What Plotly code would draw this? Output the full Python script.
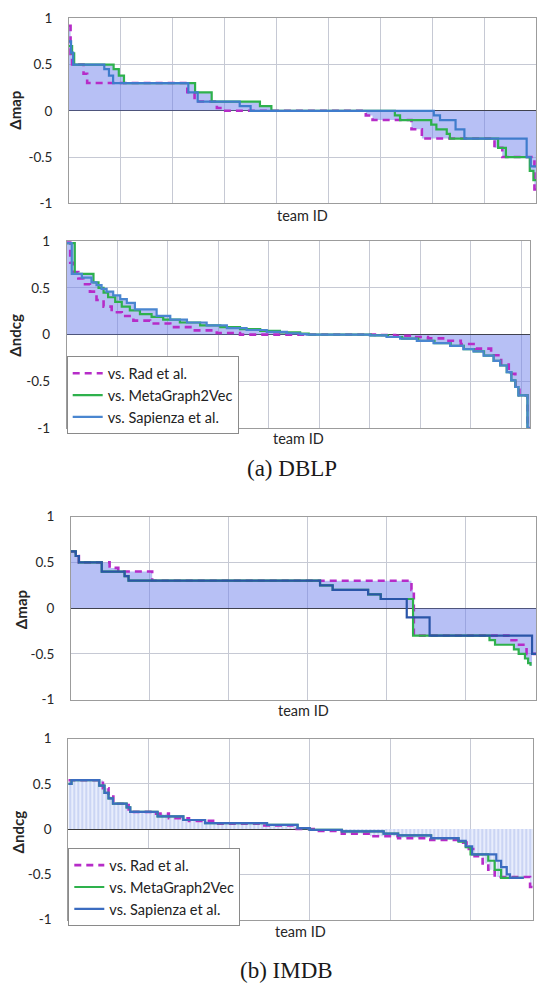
import plotly.graph_objects as go

# ---------------------------------------------------------------------------
# Per-team differences (sorted by team), stored as step breakpoints:
# *_x = team position where a new level starts, *_y = delta at that level.
# ---------------------------------------------------------------------------

# (a) DBLP - delta map
dblp_map_rad_x = [0, 0.03, 0.06, 0.28, 0.35, 2.28, 2.42, 2.85, 2.95, 5.72, 5.85, 6.6, 6.8, 8.2, 8.35, 8.97, 9.0]
dblp_map_rad_y = [0.92, 0.55, 0.5, 0.4, 0.3, 0.2, 0.1, 0.03, 0, -0.05, -0.1, -0.2, -0.3, -0.4, -0.5, -0.85, -0.85]
dblp_map_m2v_x = [0, 0.06, 0.1, 0.86, 0.96, 1.06, 2.43, 2.75, 3.68, 3.9, 6.28, 6.38, 6.98, 7.08, 7.28, 7.34, 8.27, 8.42, 8.88, 8.95, 9.0]
dblp_map_m2v_y = [0.7, 0.62, 0.5, 0.45, 0.38, 0.3, 0.2, 0.1, 0.05, 0, -0.05, -0.1, -0.15, -0.2, -0.25, -0.3, -0.4, -0.5, -0.65, -0.75, -0.75]
dblp_map_sap_x = [0, 0.04, 0.08, 0.68, 0.77, 0.85, 2.3, 2.48, 3.29, 3.5, 7.03, 7.15, 7.45, 7.62, 8.82, 8.9, 9.0]
dblp_map_sap_y = [0.75, 0.63, 0.5, 0.45, 0.38, 0.3, 0.2, 0.1, 0.05, 0, -0.05, -0.1, -0.2, -0.3, -0.5, -0.6, -0.6]

# (a) DBLP - delta ndcg
dblp_ndcg_rad_x = [0, 0.07, 0.13, 0.23, 0.33, 0.46, 0.59, 0.73, 0.89, 1.09, 1.32, 1.65, 2.05, 2.51, 2.97, 3.43,
                   6.1, 6.5, 6.85, 7.15, 7.45, 7.8, 8.1, 8.4, 8.6, 8.75, 8.88, 8.96, 9.12, 9.17]
dblp_ndcg_rad_y = [1.0, 0.77, 0.67, 0.6, 0.54, 0.46, 0.37, 0.3, 0.24, 0.2, 0.15, 0.12, 0.08, 0.046, 0.018, 0,
                   -0.004, -0.012, -0.025, -0.04, -0.065, -0.1, -0.15, -0.22, -0.32, -0.42, -0.55, -0.65, -1.0, -1.0]
dblp_ndcg_m2v_x = [0, 0.16, 0.53, 0.63, 0.73, 0.82, 0.96, 1.09, 1.25, 1.45, 1.68, 1.91, 2.24, 2.64, 3.04, 3.43, 3.83,
                   4.22, 4.62, 4.79, 6.02, 6.36, 6.64, 6.96, 7.28, 7.6, 7.86, 8.06, 8.26, 8.45, 8.58, 8.71, 8.8, 8.88,
                   8.94, 9.12, 9.17]
dblp_ndcg_m2v_y = [0.98, 0.65, 0.56, 0.5, 0.45, 0.4, 0.35, 0.3, 0.26, 0.22, 0.19, 0.16, 0.13, 0.1, 0.08, 0.06, 0.04,
                   0.025, 0.01, 0, -0.008, -0.025, -0.042, -0.067, -0.09, -0.12, -0.155, -0.18, -0.225, -0.28,
                   -0.33, -0.4, -0.49, -0.56, -0.65, -1.0, -1.0]
dblp_ndcg_sap_x = [0, 0.1, 0.3, 0.49, 0.59, 0.69, 0.79, 0.92, 1.06, 1.19, 1.35, 1.78, 2.05, 2.38, 2.77, 3.17, 3.56,
                   3.96, 4.36, 4.62, 4.75, 6.0, 6.33, 6.6, 6.93, 7.26, 7.59, 7.85, 8.05, 8.25, 8.45, 8.58, 8.71,
                   8.8, 8.88, 8.94, 9.12, 9.17]
dblp_ndcg_sap_y = [0.98, 0.65, 0.61, 0.56, 0.53, 0.49, 0.46, 0.42, 0.38, 0.34, 0.27, 0.2, 0.16, 0.13, 0.1, 0.07, 0.05,
                   0.03, 0.015, 0.005, 0, -0.008, -0.025, -0.042, -0.067, -0.09, -0.12, -0.155, -0.18, -0.225,
                   -0.28, -0.33, -0.4, -0.49, -0.56, -0.65, -1.0, -1.0]

# (b) IMDB - delta map
imdb_map_rad_x = [0, 0.06, 0.1, 0.49, 0.6, 1.03, 4.32, 4.35, 5.55, 5.65, 5.78, 5.9]
imdb_map_rad_y = [0.62, 0.57, 0.5, 0.44, 0.4, 0.3, 0.2, -0.3, -0.35, -0.4, -0.5, -0.5]
imdb_map_m2v_x = [0, 0.06, 0.1, 0.39, 0.68, 0.73, 3.16, 3.32, 3.77, 3.93, 4.34, 5.31, 5.38, 5.62, 5.68, 5.76, 5.8, 5.83]
imdb_map_m2v_y = [0.62, 0.57, 0.5, 0.4, 0.35, 0.3, 0.25, 0.2, 0.15, 0.1, -0.3, -0.35, -0.4, -0.45, -0.5, -0.55, -0.6, -0.63]
imdb_map_sap_x = [0, 0.06, 0.1, 0.39, 0.68, 0.73, 3.16, 3.32, 3.77, 3.93, 4.26, 4.55, 5.85, 5.9]
imdb_map_sap_y = [0.62, 0.57, 0.5, 0.4, 0.35, 0.3, 0.25, 0.2, 0.15, 0.1, -0.1, -0.3, -0.5, -0.5]

# (b) IMDB - delta ndcg
imdb_ndcg_rad_x = [0, 0.43, 0.5, 0.56, 0.75, 1.05, 1.25, 1.5, 1.8, 2.4, 2.8, 3.05, 3.4, 3.75, 4.1, 4.5, 4.85,
                   4.95, 5.05, 5.15, 5.22, 5.3, 5.74, 5.78]
imdb_ndcg_rad_y = [0.54, 0.45, 0.36, 0.28, 0.19, 0.17, 0.12, 0.09, 0.06, 0.04, 0.0, -0.02, -0.05, -0.08, -0.1,
                   -0.12, -0.15, -0.22, -0.3, -0.38, -0.45, -0.53, -0.64, -0.64]
imdb_ndcg_m2v_x = [0, 0.04, 0.385, 0.45, 0.5, 0.555, 0.725, 0.77, 1.11, 1.43, 1.7, 2.47, 2.85, 3.0, 3.4, 3.92,
                   4.1, 4.51, 4.85, 4.94, 5.0, 5.22, 5.3, 5.38, 5.66]
imdb_ndcg_m2v_y = [0.5, 0.54, 0.48, 0.4, 0.34, 0.28, 0.24, 0.19, 0.14, 0.1, 0.065, 0.047, 0.01, -0.01, -0.025,
                   -0.05, -0.07, -0.1, -0.14, -0.2, -0.28, -0.35, -0.45, -0.54, -0.54]
imdb_ndcg_sap_x = [0, 0.04, 0.385, 0.45, 0.5, 0.555, 0.725, 0.77, 1.11, 1.43, 1.7, 2.47, 2.85, 3.0, 3.4, 3.92,
                   4.1, 4.51, 4.85, 4.94, 5.02, 5.32, 5.38, 5.45, 5.49, 5.66]
imdb_ndcg_sap_y = [0.5, 0.54, 0.48, 0.4, 0.34, 0.28, 0.24, 0.19, 0.14, 0.1, 0.065, 0.047, 0.01, -0.01, -0.025,
                   -0.05, -0.07, -0.1, -0.13, -0.19, -0.28, -0.35, -0.42, -0.5, -0.54, -0.54]

series_names = ["vs. Rad et al.", "vs. MetaGraph2Vec", "vs. Sapienza et al."]
y_tick_vals = [-1, -0.5, 0, 0.5, 1]
y_tick_text = ["-1", "-0.5", "0", "0.5", "1"]

# ---------------------------------------------------------------------------
W, H = 537, 993
SANS = "Lato, 'Open Sans', sans-serif"
SERIF = "'Liberation Serif', 'DejaVu Serif', serif"
MAGENTA = "#b62cc8"
GREEN = "#2eb14c"


def step_value(xs, ys, x):
    """Value of an hv step series at position x (0 outside its extent)."""
    if x > xs[-1] + 1e-12:
        return 0.0
    val = ys[0]
    for xi, yi in zip(xs, ys):
        if xi <= x + 1e-12:
            val = yi
        else:
            break
    return val


def envelope(series):
    """Outermost (largest |delta|) value of several step series."""
    xs = sorted({x for sx, _ in series for x in sx})
    ys = [max((step_value(sx, sy, x) for sx, sy in series), key=abs) for x in xs]
    return xs, ys


def px_x(v):
    return v / W


def px_y(v):
    return 1 - v / H


panels = [
    dict(rad=(dblp_map_rad_x, dblp_map_rad_y), m2v=(dblp_map_m2v_x, dblp_map_m2v_y),
         sap=(dblp_map_sap_x, dblp_map_sap_y), xr=9.0, left=69, right=536, top=10.5, bottom=198.5,
         blue="#3f7ccc", ylab="Δmap", ylab_pos=(15.5, 104), title_y=211, legend=None, hatch=False),
    dict(rad=(dblp_ndcg_rad_x, dblp_ndcg_rad_y), m2v=(dblp_ndcg_m2v_x, dblp_ndcg_m2v_y),
         sap=(dblp_ndcg_sap_x, dblp_ndcg_sap_y), xr=9.17, left=66.7, right=530, top=237, bottom=427,
         blue="#4a86d0", ylab="Δndcg", ylab_pos=(15, 332), title_y=438, legend="legend", hatch=False),
    dict(rad=(imdb_map_rad_x, imdb_map_rad_y), m2v=(imdb_map_m2v_x, imdb_map_m2v_y),
         sap=(imdb_map_sap_x, imdb_map_sap_y), xr=5.9, left=71, right=536, top=517, bottom=703,
         blue="#2a55a8", ylab="Δmap", ylab_pos=(21, 612), title_y=714, legend=None, hatch=False),
    dict(rad=(imdb_ndcg_rad_x, imdb_ndcg_rad_y), m2v=(imdb_ndcg_m2v_x, imdb_ndcg_m2v_y),
         sap=(imdb_ndcg_sap_x, imdb_ndcg_sap_y), xr=5.78, left=68.3, right=533.3, top=742.5, bottom=926.5,
         blue="#3b6cc0", ylab="Δndcg", ylab_pos=(18, 838), title_y=939, legend="legend2", hatch=True),
]

fig = go.Figure()
annotations = []

for i, p in enumerate(panels, start=1):
    xa = "x" if i == 1 else f"x{i}"
    ya = "y" if i == 1 else f"y{i}"

    # shaded area out to the outermost curve
    ex, ey = envelope([p["rad"], p["m2v"], p["sap"]])
    fill_kw = dict(fill="tozeroy", mode="lines", line=dict(width=0, shape="hv"),
                   hoverinfo="skip", showlegend=False)
    if p["hatch"]:
        fill_kw["fillcolor"] = "rgba(226,232,251,1)"
        fill_kw["fillpattern"] = dict(shape="|", fgcolor="#93a8e6", bgcolor="rgba(232,237,252,1)",
                                      size=4, solidity=0.35)
    else:
        fill_kw["fillcolor"] = "rgba(112,130,236,0.5)"
    fig.add_trace(go.Scatter(x=ex, y=ey, xaxis=xa, yaxis=ya, **fill_kw))

    styles = [
        (p["rad"], dict(color=MAGENTA, width=2.6, dash="7px,5px")),
        (p["m2v"], dict(color=GREEN, width=2.2)),
        (p["sap"], dict(color=p["blue"], width=2.2)),
    ]
    for k, ((sx, sy), ln) in enumerate(styles):
        ln = dict(ln, shape="hv")
        kw = dict(x=sx, y=sy, xaxis=xa, yaxis=ya, mode="lines", line=ln, name=series_names[k],
                  showlegend=p["legend"] is not None, legendgroup=f"g{i}{k}")
        if p["legend"] is not None:
            kw["legend"] = p["legend"]
        fig.add_trace(go.Scatter(**kw))

    axis_common = dict(showline=True, mirror=True, linecolor="#9c9c9c", linewidth=1,
                       showgrid=True, gridcolor="#c6c9d4", gridwidth=1)
    fig.update_layout({
        ("xaxis" if i == 1 else f"xaxis{i}"): dict(
            axis_common, domain=[px_x(p["left"]), px_x(p["right"])], range=[0, p["xr"]],
            tick0=0, dtick=1, showticklabels=False, ticks="", zeroline=False,
            anchor=ya),
        ("yaxis" if i == 1 else f"yaxis{i}"): dict(
            axis_common, domain=[px_y(p["bottom"]), px_y(p["top"])], range=[-1, 1],
            tickvals=y_tick_vals, ticktext=y_tick_text, ticks="", ticklabelstandoff=13,
            tickfont=dict(family=SANS, size=13.5, color="#262626"),
            zeroline=True, zerolinecolor="#3a3a3a", zerolinewidth=1.2, anchor=xa),
    })

    annotations.append(dict(text="team ID", x=px_x((p["left"] + p["right"]) / 2), y=px_y(p["title_y"]),
                            xref="paper", yref="paper", showarrow=False, xanchor="center", yanchor="middle",
                            font=dict(family=SANS, size=14.5, color="#262626")))
    annotations.append(dict(text=f"<b>{p['ylab']}</b>", x=px_x(p["ylab_pos"][0]), y=px_y(p["ylab_pos"][1]),
                            xref="paper", yref="paper", showarrow=False, textangle=-90,
                            xanchor="center", yanchor="middle",
                            font=dict(family=SANS, size=15, color="#262626")))

annotations.append(dict(text="(a) DBLP", x=px_x(292), y=px_y(468), xref="paper", yref="paper",
                        showarrow=False, xanchor="center", yanchor="middle",
                        font=dict(family=SERIF, size=23, color="#1a1a1a")))
annotations.append(dict(text="(b) IMDB", x=px_x(286), y=px_y(978), xref="paper", yref="paper",
                        showarrow=False, xanchor="center", yanchor="middle",
                        font=dict(family=SERIF, size=23, color="#1a1a1a")))

legend_style = dict(bgcolor="white", bordercolor="#8a8a8a", borderwidth=1,
                    font=dict(family=SANS, size=14.5, color="#222222"),
                    xanchor="left", yanchor="top", tracegroupgap=0, itemwidth=30)

fig.update_layout(
    width=W, height=H,
    margin=dict(l=0, r=0, t=0, b=0),
    paper_bgcolor="white", plot_bgcolor="white",
    annotations=annotations,
    legend=dict(legend_style, x=px_x(66.7), y=px_y(354)),
    legend2=dict(legend_style, x=px_x(68.3), y=px_y(854)),
)

fig.write_html("out.html")
